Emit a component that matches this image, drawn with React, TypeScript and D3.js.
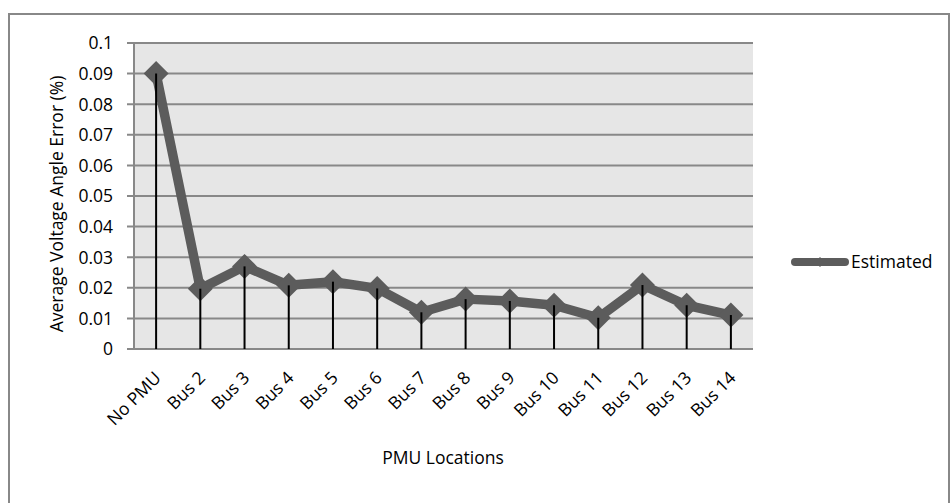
import React from "react";
import * as d3 from "d3";

const categories = ["No PMU", "Bus 2", "Bus 3", "Bus 4", "Bus 5", "Bus 6", "Bus 7", "Bus 8", "Bus 9", "Bus 10", "Bus 11", "Bus 12", "Bus 13", "Bus 14"];
const estimated = [0.09, 0.0197, 0.027, 0.0208, 0.022, 0.0198, 0.012, 0.0163, 0.0157, 0.0143, 0.0102, 0.0209, 0.0143, 0.0111];
const yTicks = [0, 0.01, 0.02, 0.03, 0.04, 0.05, 0.06, 0.07, 0.08, 0.09, 0.1];
const seriesName = "Estimated";

const W = 950, H = 503;
const plot = { left: 134, right: 753, top: 43, bottom: 349 };
const FONT = "'Open Sans', sans-serif";
const FS = 17.5;

export default function App() {
  const x = d3.scaleBand<string>().domain(categories).range([plot.left, plot.right]);
  const y = d3.scaleLinear().domain([0, 0.1]).range([plot.bottom, plot.top]);
  const cx = (c: string) => (x(c) as number) + x.bandwidth() / 2;
  const line = d3.line<number>().x((_, i) => cx(categories[i])).y((d) => y(d));
  const diamond = (px: number, py: number, r: number) => `M${px},${py - r}L${px + r},${py}L${px},${py + r}L${px - r},${py}Z`;
  const lineColor = "#5c5c5c";
  return (
    <svg width={W} height={H} style={{ position: "absolute", left: 0, top: 0 }}>
      <rect x={0} y={0} width={W} height={H} fill="#fff" />
      <rect x={9} y={14} width={940} height={500} fill="#fff" stroke="#888" strokeWidth={2} />
      <rect x={plot.left} y={plot.top} width={plot.right - plot.left} height={plot.bottom - plot.top} fill="#e6e6e6" />
      {yTicks.map((t) => (
        <g key={t}>
          <line x1={plot.left - 7} x2={plot.right} y1={y(t)} y2={y(t)} stroke="#888" strokeWidth={2} />
          <text x={113} y={y(t)} dy="0.36em" textAnchor="end" fontFamily={FONT} fontSize={FS} fill="#000">{t}</text>
        </g>
      ))}
      <line x1={plot.left} x2={plot.left} y1={plot.top} y2={plot.bottom} stroke="#888" strokeWidth={2} />
      <path d={line(estimated) as string} fill="none" stroke={lineColor} strokeWidth={9.5} strokeLinejoin="round" />
      {categories.map((c, i) => (
        <path key={"m" + c} d={diamond(cx(c), y(estimated[i]), 12.5)} fill={lineColor} />
      ))}
      {categories.map((c, i) => (
        <line key={"d2" + c} x1={cx(c)} x2={cx(c)} y1={y(estimated[i])} y2={y(0)} stroke="#000" strokeWidth={2} />
      ))}
      {categories.map((c) => (
        <text key={"l" + c} transform={`translate(${cx(c) + 6},${plot.bottom + 30}) rotate(-45)`} textAnchor="end" fontFamily={FONT} fontSize={FS} fill="#000">{c}</text>
      ))}
      <text transform={`translate(63,${(plot.top + plot.bottom) / 2 + 8}) rotate(-90)`} textAnchor="middle" fontFamily={FONT} fontSize={FS} fill="#000">Average Voltage Angle Error (%)</text>
      <text x={443} y={464} textAnchor="middle" fontFamily={FONT} fontSize={FS} fill="#000">PMU Locations</text>
      <line x1={795} x2={845} y1={262} y2={262} stroke={lineColor} strokeWidth={8} strokeLinecap="round" />
      <path d={diamond(820, 262, 5)} fill={lineColor} />
      <text x={851} y={262} dy="0.36em" fontFamily={FONT} fontSize={FS} fill="#000">{seriesName}</text>
    </svg>
  );
}
